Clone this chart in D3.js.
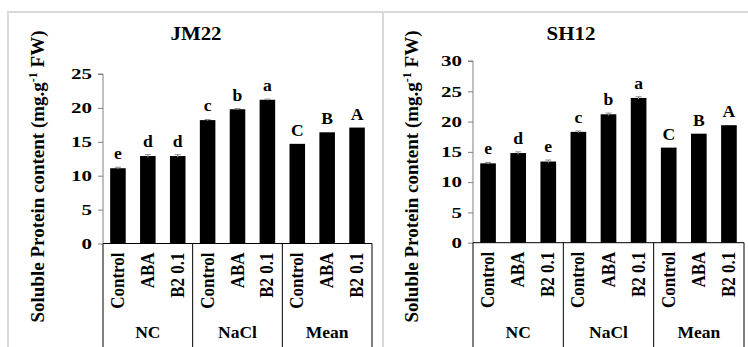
<!DOCTYPE html>
<html>
<head>
<meta charset="utf-8">
<script src="https://cdn.jsdelivr.net/npm/d3@7"></script>
<style>
  body { margin: 0; background: #fff; }
</style>
</head>
<body>
<svg id="chart" width="748" height="347"></svg>
<script>
let treatments = ['Control', 'ABA', 'B2 0.1'];
let groups = ['NC', 'NaCl', 'Mean'];

// JM22
let jm22_values = [11.1, 12.9, 12.9, 18.2, 19.8, 21.2, 14.7, 16.4, 17.1];
let jm22_errors = [0.15, 0.2, 0.2, 0.1, 0.1, 0.1, 0, 0, 0];
let jm22_letters = ['e', 'd', 'd', 'c', 'b', 'a', 'C', 'B', 'A'];
let jm22_ticks = [0, 5, 10, 15, 20, 25];

// SH12
let sh12_values = [13.1, 14.8, 13.4, 18.3, 21.2, 23.9, 15.7, 18.0, 19.4];
let sh12_errors = [0.15, 0.2, 0.25, 0.15, 0.2, 0.2, 0, 0, 0];
let sh12_letters = ['e', 'd', 'e', 'c', 'b', 'a', 'C', 'B', 'A'];
let sh12_ticks = [0, 5, 10, 15, 20, 25, 30];

let font = "'Times New Roman', 'Liberation Serif', Times, serif";
let border_color = '#d9d9d9';
let svg = d3.select('#chart');

// panel frame lines (cropped figure)
svg.append('line').attr('x1', 7).attr('x2', 748).attr('y1', 12).attr('y2', 12)
	.attr('stroke', border_color).attr('stroke-width', 2);
svg.append('line').attr('x1', 8).attr('x2', 8).attr('y1', 12).attr('y2', 347)
	.attr('stroke', border_color).attr('stroke-width', 2);
svg.append('line').attr('x1', 383).attr('x2', 383).attr('y1', 12).attr('y2', 347)
	.attr('stroke', border_color).attr('stroke-width', 2);

function draw_panel(opt) {
	let g = svg.append('g');

	let keys = [];
	groups.forEach(gr => treatments.forEach(t => keys.push(gr + '|' + t)));

	let x = d3.scaleBand()
		.domain(keys)
		.range([opt.x0, opt.x1])
		.paddingInner(0.48)
		.paddingOuter(0.24);

	let y = d3.scaleLinear()
		.domain([0, opt.ymax])
		.range([opt.y0, opt.ytop]);

	// y axis
	let yAxis = d3.axisLeft(y)
		.tickValues(opt.ticks)
		.tickSize(5)
		.tickPadding(6);
	let ya = g.append('g')
		.attr('transform', `translate(${opt.x0},0)`)
		.call(yAxis);
	ya.attr('font-family', null).attr('font-size', null);
	ya.select('.domain').attr('stroke', '#808080').attr('d', `M-5,${y(opt.ymax)}H0V${opt.y0}`);
	ya.selectAll('.tick line').attr('stroke', '#808080');
	// tick labels look stretched sideways in the source picture
	ya.selectAll('.tick text')
		.attr('x', 0)
		.attr('transform', 'translate(-11,0) scale(1.4,1)')
		.style('font-size', '15px');

	// bars
	g.selectAll('.bar')
		.data(opt.values)
		.enter().append('rect')
		.attr('class', 'bar')
		.attr('x', (d, i) => x(keys[i]))
		.attr('y', d => y(d))
		.attr('width', x.bandwidth())
		.attr('height', d => opt.y0 - y(d))
		.attr('fill', '#000');

	// error bars
	let errs = opt.values.map((v, i) => ({v: v, e: opt.errors[i], k: keys[i]})).filter(d => d.e > 0);
	let eg = g.selectAll('.err').data(errs).enter().append('g').attr('class', 'err')
		.attr('stroke', '#8c8c8c').attr('stroke-width', 1);
	eg.append('line')
		.attr('x1', d => x(d.k) + x.bandwidth() / 2).attr('x2', d => x(d.k) + x.bandwidth() / 2)
		.attr('y1', d => y(d.v + d.e)).attr('y2', d => y(d.v - d.e));
	eg.append('line')
		.attr('x1', d => x(d.k) + x.bandwidth() / 2 - 3).attr('x2', d => x(d.k) + x.bandwidth() / 2 + 3)
		.attr('y1', d => y(d.v + d.e)).attr('y2', d => y(d.v + d.e));

	// letters
	g.selectAll('.letter')
		.data(opt.values)
		.enter().append('text')
		.attr('class', 'letter')
		.attr('transform', (d, i) => `translate(${x(keys[i]) + x.bandwidth() / 2},${y(d + opt.errors[i]) - 8}) scale(1.1,1)`)
		.attr('text-anchor', 'middle')
		.style('font-size', '16px')
		.text((d, i) => opt.letters[i]);

	// baseline
	g.append('line')
		.attr('x1', opt.x0).attr('x2', opt.x1)
		.attr('y1', opt.y0).attr('y2', opt.y0)
		.attr('stroke', '#000').attr('stroke-width', 1);

	// group separators
	let gw = (opt.x1 - opt.x0) / groups.length;
	d3.range(groups.length + 1).forEach(i => {
		g.append('line')
			.attr('x1', opt.x0 + i * gw).attr('x2', opt.x0 + i * gw)
			.attr('y1', opt.y0).attr('y2', 347)
			.attr('stroke', '#000').attr('stroke-width', 1);
	});

	// treatment labels
	g.selectAll('.cat')
		.data(keys)
		.enter().append('text')
		.attr('class', 'cat')
		.attr('transform', d => `translate(${x(d) + x.bandwidth() / 2 + 6},${opt.y0 + 9}) rotate(-90) scale(1,1.15)`)
		.attr('text-anchor', 'end')
		.style('font-size', '17px')
		.text(d => d.split('|')[1]);

	// group labels
	g.selectAll('.grp')
		.data(groups)
		.enter().append('text')
		.attr('class', 'grp')
		.attr('x', (d, i) => opt.x0 + (i + 0.5) * gw)
		.attr('y', 338)
		.attr('text-anchor', 'middle')
		.style('font-size', '17.5px')
		.text(d => d);

	// title
	g.append('text')
		.attr('transform', `translate(${opt.title_x},40) scale(1.1,1)`)
		.attr('text-anchor', 'middle')
		.style('font-size', '19px')
		.text(opt.title);

	// y title
	let yt = g.append('text')
		.attr('transform', `translate(${opt.ytitle_x},176.5) rotate(-90)`)
		.attr('text-anchor', 'middle')
		.style('font-size', '19px');
	yt.append('tspan').text('Soluble Protein content (mg.g');
	yt.append('tspan').attr('dy', -7).style('font-size', '12px').text('-1');
	yt.append('tspan').attr('dy', 7).text(' FW)');

	g.selectAll('text')
		.style('font-family', font)
		.style('font-weight', 'bold')
		.attr('fill', '#000');
}

draw_panel({
	x0: 103, x1: 372, y0: 243.5, ytop: 74, ymax: 25,
	ticks: jm22_ticks, values: jm22_values, errors: jm22_errors, letters: jm22_letters,
	title: 'JM22', title_x: 196, ytitle_x: 43.5
});

draw_panel({
	x0: 473, x1: 744, y0: 242.7, ytop: 61, ymax: 30,
	ticks: sh12_ticks, values: sh12_values, errors: sh12_errors, letters: sh12_letters,
	title: 'SH12', title_x: 571, ytitle_x: 417.5
});
</script>
</body>
</html>
